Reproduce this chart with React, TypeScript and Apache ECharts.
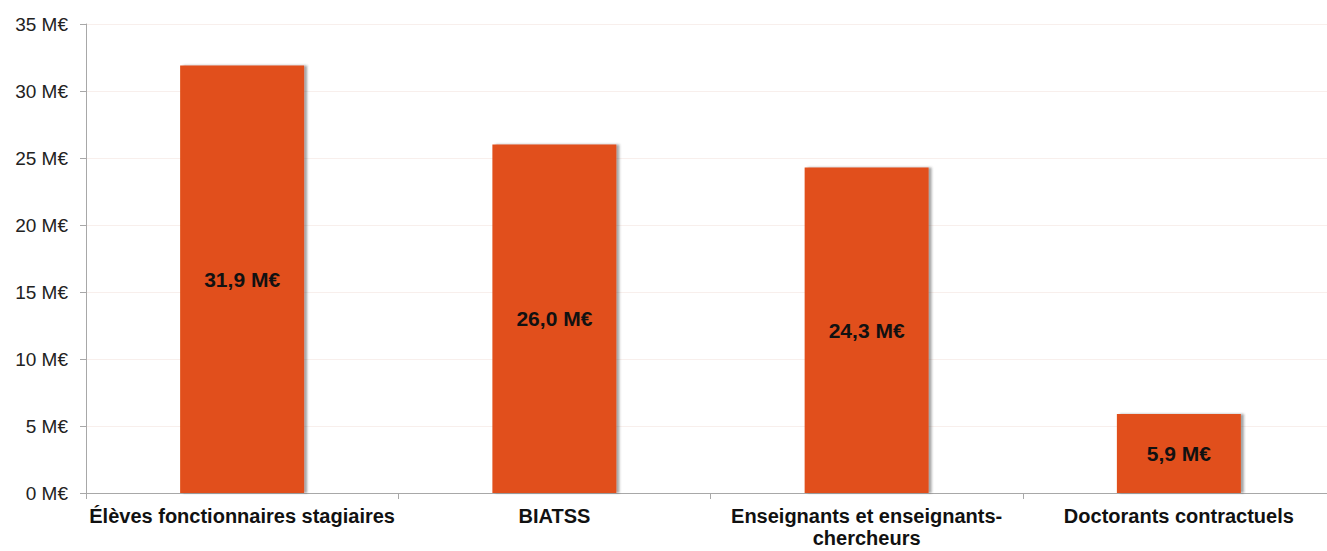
import React, { useEffect, useRef } from "react";
import * as echarts from "echarts";

// Amounts in millions of euros per staff category
const categories: string[] = [
  "Élèves fonctionnaires stagiaires",
  "BIATSS",
  "Enseignants et enseignants-\nchercheurs",
  "Doctorants contractuels",
];
const amounts: number[] = [31.9, 26.0, 24.3, 5.9];
const yTicks: number[] = [0, 5, 10, 15, 20, 25, 30, 35];

const fmt = (v: number) => v.toFixed(1).replace(".", ",") + " M€";

export default function App() {
  const ref = useRef<HTMLDivElement>(null);

  useEffect(() => {
    if (!ref.current) return;
    const chart = echarts.init(ref.current, null, { renderer: "svg" });
    chart.setOption({
      animation: false,
      backgroundColor: "#ffffff",
      grid: {
        left: 86,
        top: 24,
        width: 1249,
        height: 469,
        containLabel: false,
        outerBoundsMode: "none",
      },
      xAxis: {
        type: "category",
        data: categories,
        axisLine: { show: true, lineStyle: { color: "#a8a8a8", width: 1 } },
        axisTick: { show: true, length: 6, lineStyle: { color: "#a8a8a8" } },
        axisLabel: {
          interval: 0,
          margin: 12,
          color: "#111111",
          fontFamily: "Liberation Sans, Arial, sans-serif",
          fontWeight: "bold",
          fontSize: 20,
          lineHeight: 22,
          align: "center",
        },
        splitLine: { show: false },
      },
      yAxis: {
        type: "value",
        min: yTicks[0],
        max: yTicks[yTicks.length - 1],
        interval: 5,
        axisLine: { show: true, lineStyle: { color: "#a8a8a8", width: 1 } },
        axisTick: { show: true, length: 6, lineStyle: { color: "#a8a8a8" } },
        axisLabel: {
          margin: 18,
          color: "#222222",
          fontFamily: "Liberation Sans, Arial, sans-serif",
          fontSize: 19,
          formatter: (v: number) => `${v} M€`,
        },
        splitLine: { show: true, lineStyle: { color: "#f8efec", width: 1 } },
      },
      series: [
        {
          type: "bar",
          data: amounts,
          barWidth: 124,
          itemStyle: {
            color: "#e1501b",
            shadowColor: "rgba(60,60,60,0.45)",
            shadowOffsetX: 3,
            shadowOffsetY: 0,
            shadowBlur: 2,
          },
          label: {
            show: true,
            position: "inside",
            color: "#111111",
            fontFamily: "Liberation Sans, Arial, sans-serif",
            fontWeight: "bold",
            fontSize: 21,
            formatter: (p: any) => fmt(p.value),
          },
        },
      ],
    });
    return () => chart.dispose();
  }, []);

  return (
    <div
      ref={ref}
      style={{ position: "fixed", left: 0, top: 0, width: 1327, height: 551 }}
    />
  );
}
